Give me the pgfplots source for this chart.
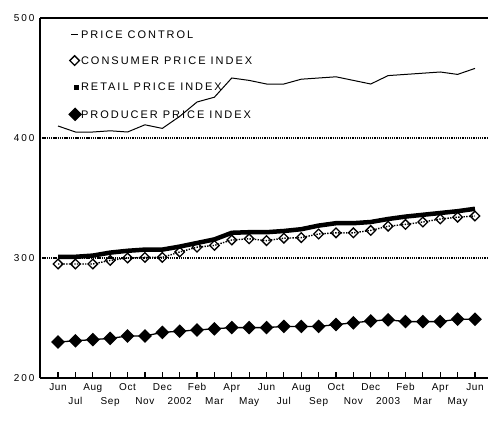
\documentclass[border=0pt]{standalone}
\usepackage{fontspec}
\setmainfont{Liberation Sans}
\newfontfamily\legfont[LetterSpace=18]{Liberation Sans}
\newfontfamily\tickfont[LetterSpace=6]{Liberation Sans}
\newfontfamily\yfont[LetterSpace=20]{Liberation Sans}
\usepackage{pgfplots}
\pgfplotsset{compat=1.18}

\pgfplotstableread{
idx pc  cpi   rpi   ppi
0   410 295   301   230
1   405 295   301   231
2   405 295   302   232
3   406 298   304.5 233
4   405 300   306   235
5   411 300.5 307   235
6   408 300.5 307   238
7   418 305   309.5 239
8   430 309   312.5 240
9   434 310.5 315.5 241
10  450 315   321   242
11  448 316   321.5 242
12  445 314.5 321.5 242
13  445 316.5 322.5 243
14  449 317   324   243
15  450 320   327   243
16  451 321   329   244.5
17  448 321   329   246
18  445 323   330   247.5
19  452 326.5 332.5 248.5
20  453 328   334.5 247
21  454 330   336   247
22  455 332.5 337.5 247
23  453 334   339   249
24  458 335   341   249
}\data

\begin{document}
\begin{tikzpicture}
\begin{axis}[name=ax,
  scale only axis, width=448pt, height=360pt,
  xmin=-1.04, xmax=24.75, ymin=200, ymax=500,
  axis x line*=bottom, axis y line*=left,
  axis line style={-, line width=1.2pt},
  xtick={0,...,24},
  xticklabels={Jun,{\phantom{X}\\Jul},Aug,{\phantom{X}\\Sep},Oct,{\phantom{X}\\Nov},Dec,{\phantom{X}\\2002},Feb,{\phantom{X}\\Mar},Apr,{\phantom{X}\\May},Jun,{\phantom{X}\\Jul},Aug,{\phantom{X}\\Sep},Oct,{\phantom{X}\\Nov},Dec,{\phantom{X}\\2003},Feb,{\phantom{X}\\Mar},Apr,{\phantom{X}\\May},Jun},
  xticklabel style={font=\tickfont\fontsize{10}{14}\selectfont, align=center, yshift=-2pt},
  tick align=inside, major tick length=6pt,
  xtick style={line width=1.2pt, black},
  ytick={200,300,400,500},
  yticklabels={200,300,400,500},
  yticklabel style={font=\yfont\fontsize{10}{12}\selectfont, xshift=-2pt},
  ytick style={draw=none},
  ymajorgrids, grid style={black, line width=1.3pt, dash pattern=on 1.3pt off 0.9pt},
  legend style={draw=none, fill=none, at={(rel axis cs:0.058,0.972)}, anchor=north west,
    font=\legfont\fontsize{11}{13}\selectfont, row sep=17.5pt,
    nodes={inner sep=0pt, text height=8pt, text depth=0pt}},
  legend cell align=left,
  clip=false,
]
\addplot[black, line width=1pt, legend image code/.code={\draw[line width=1pt] (2pt,0pt)--(9pt,0pt);}] table[x=idx,y=pc] {\data};
\addlegendentry{PRICE CONTROL}
\addplot[black, line width=1.4pt, dash pattern=on 1.4pt off 1.3pt, mark=square, mark size=3.4pt,
  mark options={rotate=45, solid, line width=1.3pt},
  legend image code/.code={\draw[mark=square, mark size=3.4pt, mark options={rotate=45, solid, line width=1.3pt}] plot coordinates {(5.5pt,0pt)};}] table[x=idx,y=cpi] {\data};
\addlegendentry{CONSUMER PRICE INDEX}
\addplot[black, line width=4.5pt, line join=miter,
  legend image code/.code={\path[fill=black, draw=none, line width=0pt] (5pt,-3.5pt) rectangle (10pt,1.5pt);}] table[x=idx,y=rpi] {\data};
\addlegendentry{RETAIL PRICE INDEX}
\addplot[black, line width=1.3pt, mark=square*, mark size=4.2pt, mark options={rotate=45},
  legend image code/.code={\draw[mark=square*, mark size=4.2pt, mark options={rotate=45}] plot coordinates {(6pt,0pt)};}] table[x=idx,y=ppi] {\data};
\addlegendentry{PRODUCER PRICE INDEX}
\draw[line width=1.2pt] (rel axis cs:0,1) -- (rel axis cs:1,1);
\end{axis}
\pgfresetboundingbox
\path[use as bounding box] ([xshift=-40pt,yshift=-43pt]ax.south west) rectangle ([yshift=18pt]ax.north east);
\end{tikzpicture}
\end{document}
